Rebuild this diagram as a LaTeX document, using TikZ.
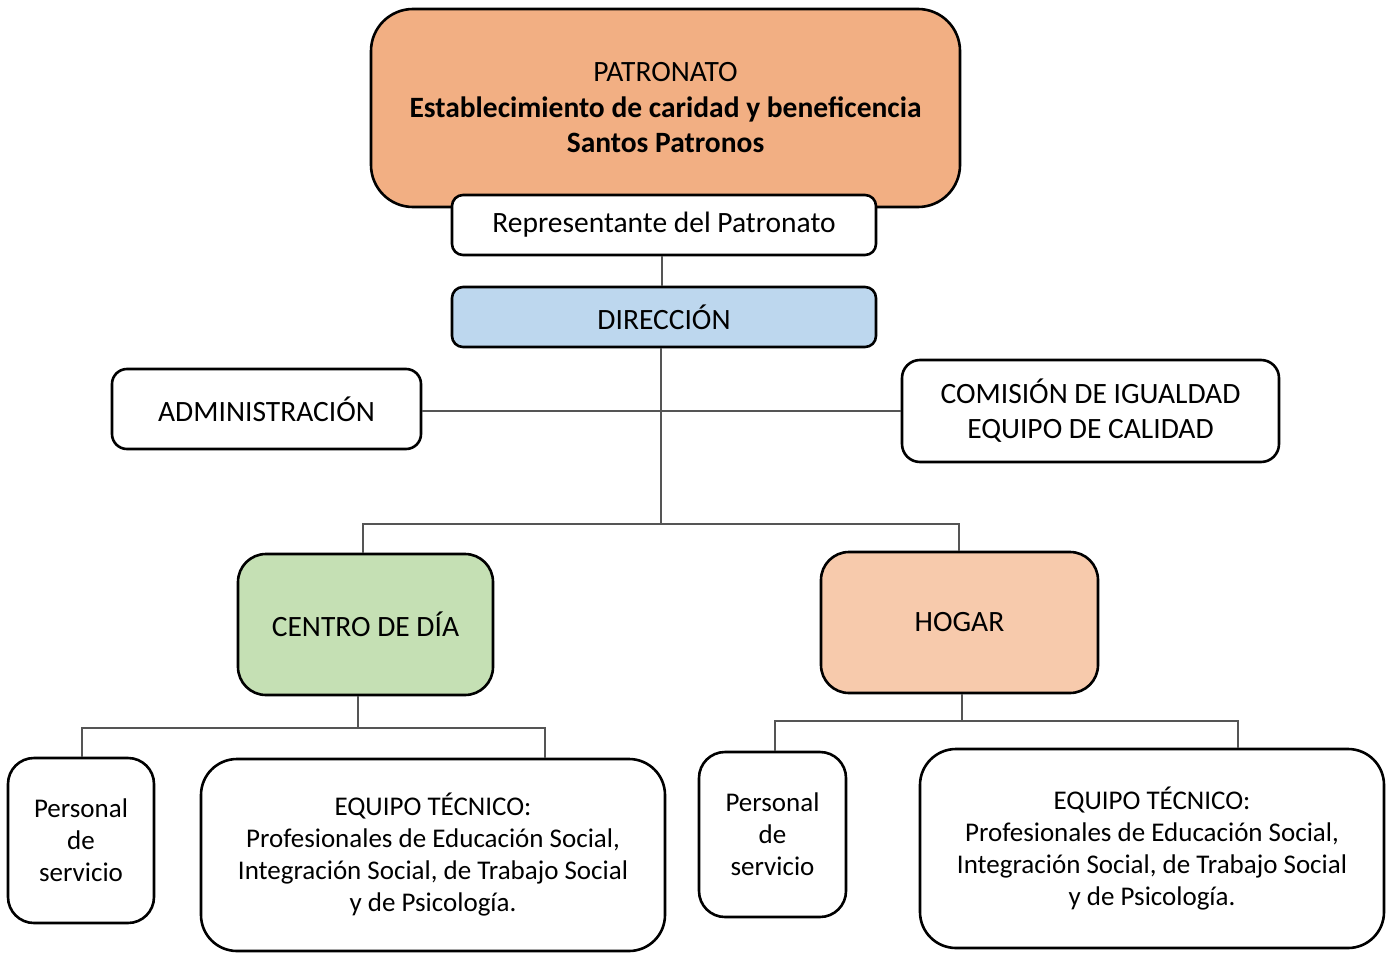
\documentclass[tikz,border=0pt]{standalone}
\usepackage{fontspec}
\setmainfont{Carlito}
\definecolor{patron}{HTML}{F2AF83}
\definecolor{dirc}{HTML}{BDD7EE}
\definecolor{centroc}{HTML}{C5E0B4}
\definecolor{hogarc}{HTML}{F7CAAC}
\definecolor{linec}{HTML}{555555}
\tikzset{
  box/.style={draw=black, line width=2.6pt, fill=white, inner sep=0pt, align=center,
    font=\fontsize{29.5}{32}\selectfont},
  lowbox/.style={box, font=\fontsize{27}{32}\selectfont},
  conn/.style={draw=linec, line width=1.4pt}
}
\begin{document}
\begin{tikzpicture}[x=1pt,y=-1pt]
\useasboundingbox (0,0) rectangle (1389,953);
% top
\node[box, fill=patron, rounded corners=42pt, minimum width=589pt, minimum height=198pt,
  font=\fontsize{29.5}{35.5}\selectfont] (patronato) at (665.5,108)
  {PATRONATO\\\textbf{Establecimiento de caridad y beneficencia}\\\textbf{Santos Patronos}};
\node[box, rounded corners=11pt, minimum width=424pt, minimum height=60pt] (rep) at (664,225) {Representante del Patronato};
\node[box, fill=dirc, rounded corners=11pt, minimum width=424pt, minimum height=60pt] (dir) at (664,317) {DIRECCIÓN};
\node[box, rounded corners=15pt, minimum width=309pt, minimum height=80pt] (admin) at (266.5,409) {ADMINISTRACIÓN};
\node[box, rounded corners=18pt, minimum width=377pt, minimum height=102pt,
  font=\fontsize{29.5}{35}\selectfont] (comision) at (1090.5,411) {COMISIÓN DE IGUALDAD\\EQUIPO DE CALIDAD};
\node[box, fill=centroc, rounded corners=28pt, minimum width=255pt, minimum height=141pt] (centro) at (365.5,624.5) {CENTRO DE DÍA};
\node[box, fill=hogarc, rounded corners=28pt, minimum width=277pt, minimum height=141pt] (hogar) at (959.5,622.5) {HOGAR};
\node[lowbox, rounded corners=26pt, minimum width=146pt, minimum height=165pt] (pers1) at (81,840.5) {Personal\\de\\servicio};
\node[lowbox, rounded corners=36pt, minimum width=464pt, minimum height=192pt] (equipo1) at (433,855) {EQUIPO TÉCNICO:\\Profesionales de Educación Social,\\Integración Social, de Trabajo Social\\y de Psicología.};
\node[lowbox, rounded corners=26pt, minimum width=147pt, minimum height=165pt] (pers2) at (772.5,834.5) {Personal\\de\\servicio};
\node[lowbox, rounded corners=36pt, minimum width=464pt, minimum height=199pt] (equipo2) at (1152,848.5) {EQUIPO TÉCNICO:\\Profesionales de Educación Social,\\Integración Social, de Trabajo Social\\y de Psicología.};
% junctions
\coordinate (j1) at (661,411);
\coordinate (j2) at (661,524);
\coordinate (j3) at (358,728);
\coordinate (j4) at (962,721);
% connectors
\draw[conn] (rep.south -| 662,0) -- (dir.north -| 662,0);
\draw[conn] (dir.south -| j2) -- (j2);
\draw[conn] (admin.east |- j1) -- (comision.west |- j1);
\draw[conn] (centro.north -| 363,0) |- (j2) -| (hogar.north -| 959,0);
\draw[conn] (centro.south -| j3) -- (j3);
\draw[conn] (pers1.north -| 82,0) |- (j3) -| (equipo1.north -| 545,0);
\draw[conn] (hogar.south -| j4) -- (j4);
\draw[conn] (pers2.north -| 775,0) |- (j4) -| (equipo2.north -| 1238,0);
\end{tikzpicture}
\end{document}
